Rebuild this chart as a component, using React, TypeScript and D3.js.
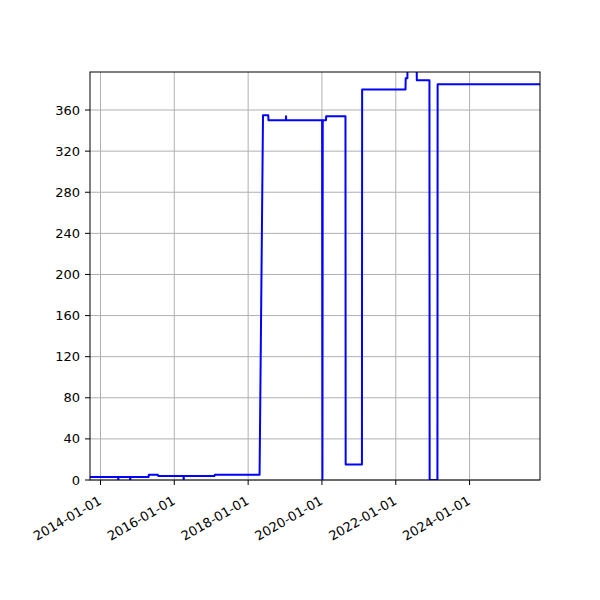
import { useEffect, useRef } from 'react';
import * as d3 from 'd3';

// ─── Data ───────────────────────────────────────────────────

const DATES = [
  '2013-09-19', '2014-06-24', '2014-06-26', '2014-06-28', '2014-10-20', '2014-10-22',
  '2014-10-24', '2015-04-22', '2015-04-24', '2015-07-23', '2015-07-25', '2016-04-01',
  '2016-04-03', '2016-04-05', '2017-02-03', '2017-02-05', '2018-04-24', '2018-05-28',
  '2018-07-19', '2018-07-21', '2019-01-10', '2019-01-11', '2019-01-12', '2020-01-03',
  '2020-01-06', '2020-01-09', '2020-02-10', '2020-02-12', '2020-08-21', '2020-08-23',
  '2021-01-31', '2021-02-02', '2022-04-07', '2022-04-09', '2022-04-26', '2022-04-28',
  '2022-07-26', '2022-07-28', '2022-11-30', '2022-12-02', '2023-02-17', '2023-02-19',
  '2025-11-28',
];

const VALUES = [
  3, 3, 0, 3, 3, 0,
  3, 3, 5, 5, 4, 4,
  0, 4, 4, 5, 5, 355,
  355, 350, 350, 354, 350, 350,
  0, 350, 350, 354, 354, 15,
  15, 380, 380, 391, 391, 420,
  420, 389, 389, 0, 0, 385,
  385,
];

const Y_TICKS = [0, 40, 80, 120, 160, 200, 240, 280, 320, 360];
const X_TICKS = ['2014-01-01', '2016-01-01', '2018-01-01', '2020-01-01', '2022-01-01', '2024-01-01'];
const X_DOMAIN = ['2013-09-19', '2025-11-28'];
const Y_DOMAIN = [0, 397];

// ─── Layout ─────────────────────────────────────────────────

const W = 600;
const H = 600;
const M = { top: 72, right: 60, bottom: 120, left: 90 };
const FONT = '"DejaVu Sans", sans-serif';
const FONT_SIZE = 13;

export default function App() {
  const svgRef = useRef<SVGSVGElement>(null);

  useEffect(() => {
    if (!svgRef.current) return;
    const svg = d3.select(svgRef.current);
    svg.selectAll('*').remove();

    const parse = d3.utcParse('%Y-%m-%d');
    const points = DATES.map((d, i) => ({ date: parse(d) as Date, value: VALUES[i] }));

    const x = d3.scaleUtc()
      .domain(X_DOMAIN.map((d) => parse(d) as Date))
      .range([M.left, W - M.right]);
    const y = d3.scaleLinear().domain(Y_DOMAIN).range([H - M.bottom, M.top]);

    const x0 = M.left, x1 = W - M.right, y0 = H - M.bottom, y1 = M.top;

    svg.append('rect').attr('width', W).attr('height', H).attr('fill', '#fff');

    // Grid
    const grid = svg.append('g').attr('stroke', '#b0b0b0').attr('stroke-width', 1);
    Y_TICKS.forEach((t) => {
      grid.append('line').attr('x1', x0).attr('x2', x1).attr('y1', y(t)).attr('y2', y(t));
    });
    X_TICKS.forEach((t) => {
      const px = x(parse(t) as Date);
      grid.append('line').attr('x1', px).attr('x2', px).attr('y1', y0).attr('y2', y1);
    });

    // Line
    svg.append('clipPath').attr('id', 'plot-clip')
      .append('rect').attr('x', x0).attr('y', y1).attr('width', x1 - x0).attr('height', y0 - y1);

    const lineGen = d3.line<{ date: Date; value: number }>()
      .x((d) => x(d.date))
      .y((d) => y(d.value));

    svg.append('path').datum(points)
      .attr('clip-path', 'url(#plot-clip)')
      .attr('fill', 'none')
      .attr('stroke', '#0000ff')
      .attr('stroke-width', 2)
      .attr('stroke-linejoin', 'round')
      .attr('d', lineGen);

    // Spines
    svg.append('rect')
      .attr('x', x0).attr('y', y1).attr('width', x1 - x0).attr('height', y0 - y1)
      .attr('fill', 'none').attr('stroke', '#000').attr('stroke-width', 1);

    // Y axis ticks + labels
    const yAxis = svg.append('g');
    Y_TICKS.forEach((t) => {
      yAxis.append('line').attr('x1', x0 - 5).attr('x2', x0).attr('y1', y(t)).attr('y2', y(t))
        .attr('stroke', '#000').attr('stroke-width', 1);
      yAxis.append('text')
        .attr('x', x0 - 10).attr('y', y(t))
        .attr('text-anchor', 'end').attr('dominant-baseline', 'central')
        .attr('font-family', FONT).attr('font-size', FONT_SIZE).attr('fill', '#000')
        .text(t);
    });

    // X axis ticks + rotated labels
    const xAxis = svg.append('g');
    X_TICKS.forEach((t) => {
      const px = x(parse(t) as Date);
      xAxis.append('line').attr('x1', px).attr('x2', px).attr('y1', y0).attr('y2', y0 + 5)
        .attr('stroke', '#000').attr('stroke-width', 1);
      xAxis.append('text')
        .attr('transform', `translate(${px - 3},${y0 + 15}) rotate(-30)`)
        .attr('text-anchor', 'end').attr('dominant-baseline', 'hanging')
        .attr('font-family', FONT).attr('font-size', FONT_SIZE).attr('fill', '#000')
        .text(t);
    });
  }, []);

  return (
    <div style={{ position: 'absolute', left: 0, top: 0 }}>
      <svg ref={svgRef} width={W} height={H} style={{ display: 'block' }} />
    </div>
  );
}
